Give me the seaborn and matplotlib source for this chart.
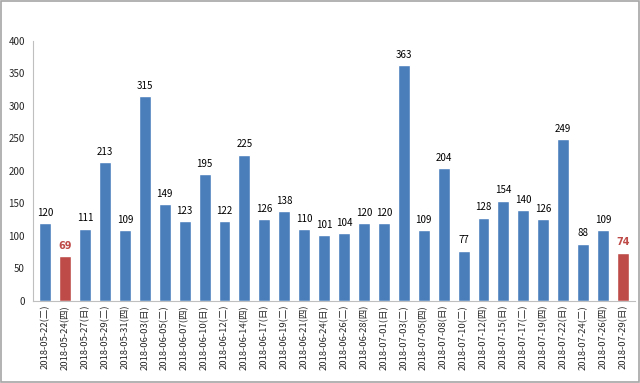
import matplotlib
matplotlib.use('Agg')
import matplotlib.pyplot as plt
import seaborn as sns
import pandas as pd

dates = ['2018-05-22', '2018-05-24', '2018-05-27', '2018-05-29', '2018-05-31',
         '2018-06-03', '2018-06-05', '2018-06-07', '2018-06-10', '2018-06-12',
         '2018-06-14', '2018-06-17', '2018-06-19', '2018-06-21', '2018-06-24',
         '2018-06-26', '2018-06-28', '2018-07-01', '2018-07-03', '2018-07-05',
         '2018-07-08', '2018-07-10', '2018-07-12', '2018-07-15', '2018-07-17',
         '2018-07-19', '2018-07-22', '2018-07-24', '2018-07-26', '2018-07-29']
weekdays = ['二', '四', '日', '二', '四', '日', '二', '四', '日', '二',
            '四', '日', '二', '四', '日', '二', '四', '日', '二', '四',
            '日', '二', '四', '日', '二', '四', '日', '二', '四', '日']
values = [120, 69, 111, 213, 109, 315, 149, 123, 195, 122,
          225, 126, 138, 110, 101, 104, 120, 120, 363, 109,
          204, 77, 128, 154, 140, 126, 249, 88, 109, 74]
highlight = ['2018-05-24', '2018-07-29']

labels = [f'{d}({w})' for d, w in zip(dates, weekdays)]
df = pd.DataFrame({'label': labels, 'value': values, 'date': dates})
df['hl'] = df['date'].isin(highlight)

blue = '#4A7EBB'
red = '#BE4B48'
colors = [red if h else blue for h in df['hl']]

sns.set_style('white')
plt.rcParams['font.family'] = ['Noto Sans CJK SC', 'DejaVu Sans']

fig = plt.figure(figsize=(6.4, 3.83), dpi=100)
ax = fig.add_axes([0.052, 0.215, 0.94, 0.678])
sns.barplot(data=df, x='label', y='value', hue='label', palette=colors,
            legend=False, width=0.6, ax=ax, saturation=1)

for i, (v, h) in enumerate(zip(df['value'], df['hl'])):
    if h:
        ax.text(i, v + 8, str(v), ha='center', va='bottom', fontsize=7,
                color=red, fontweight='bold', family='DejaVu Sans')
    else:
        ax.text(i, v + 8, str(v), ha='center', va='bottom', fontsize=7,
                color='black')

ax.set_ylim(0, 400)
ax.set_yticks(range(0, 401, 50))
ax.set_xlim(-0.6, len(values) - 0.4)
ax.set_xlabel('')
ax.set_ylabel('')
ax.tick_params(axis='x', labelrotation=90, labelsize=6.8, length=0, pad=3)
ax.tick_params(axis='y', labelsize=7, length=0, pad=6)
for s in ['top', 'right']:
    ax.spines[s].set_visible(False)
for s in ['left', 'bottom']:
    ax.spines[s].set_color('#BFBFBF')
    ax.spines[s].set_linewidth(0.8)

border = plt.Rectangle((0.002, 0.003), 0.996, 0.994, transform=fig.transFigure,
                       fill=False, edgecolor='#A6A6A6', linewidth=1.2)
fig.patches.append(border)

fig.savefig('out.png', dpi=100)
